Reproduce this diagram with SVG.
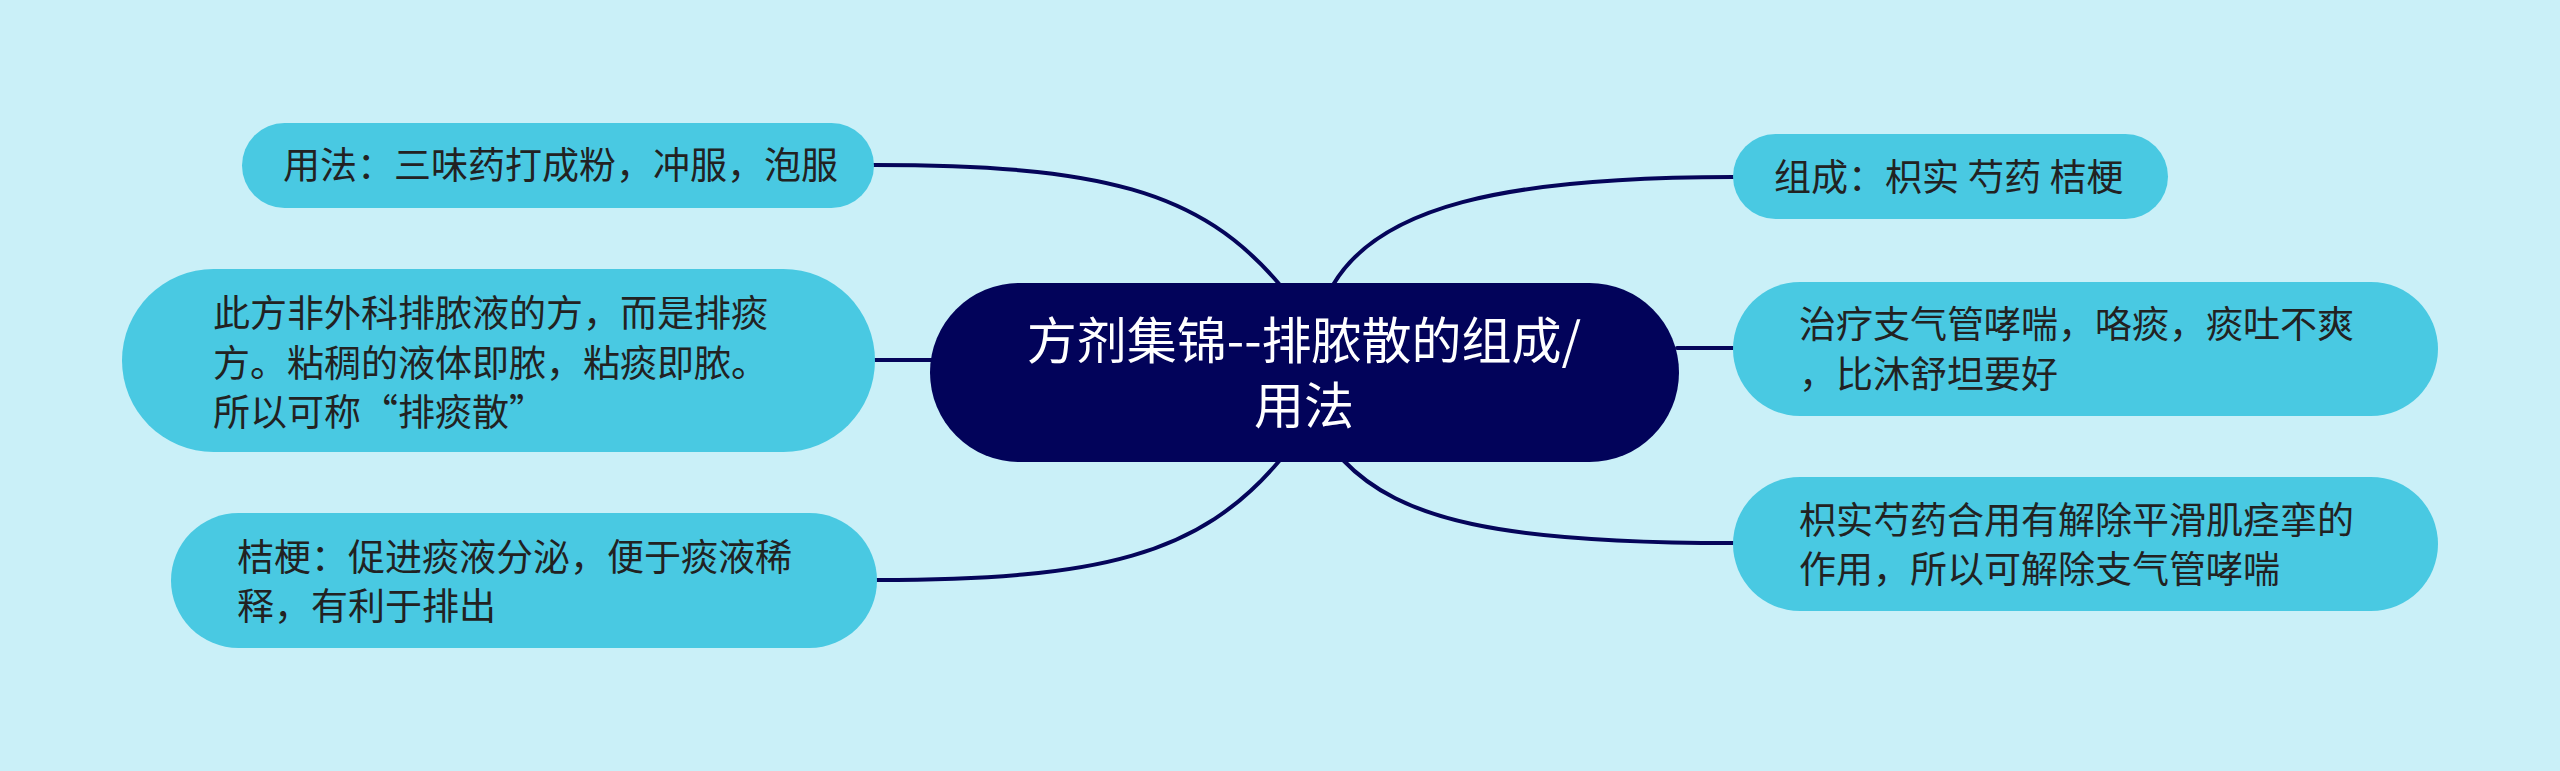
<svg xmlns="http://www.w3.org/2000/svg" width="2560" height="771" viewBox="0 0 2560 771">
<style>
.bg{fill:#CAF0F8}
.node{fill:#49C9E2}
.center{fill:#02035A}
.t{font-family:"Noto Sans CJK SC","Noto Sans",sans-serif;font-size:37px;fill:#222222}
.ct{font-family:"Noto Sans CJK SC","Noto Sans",sans-serif;font-size:50px;fill:#ffffff;text-anchor:middle}
.conn{fill:none;stroke:#05055A;stroke-width:4;stroke-linecap:round}
</style>
<rect class="bg" x="0" y="0" width="2560" height="771"/>
<g id="connectors">
<path class="conn" d="M 874 165 C 1100 165, 1200 190, 1280 285"/>
<path class="conn" d="M 875 360 L 932 360"/>
<path class="conn" d="M 877 580 C 1100 580, 1200 555, 1280 460"/>
<path class="conn" d="M 1333 285 C 1378 208, 1500 177, 1733 177"/>
<path class="conn" d="M 1677 348 L 1733 348"/>
<path class="conn" d="M 1343 460 C 1400 520, 1500 543, 1733 543"/>
</g>
<g id="center">
<rect class="center" x="930" y="283" width="749" height="179" rx="89.5"/>
<text class="ct" x="1304" y="359">方剂集锦--排脓散的组成/</text>
<text class="ct" x="1304" y="424">用法</text>
</g>
<g id="n-usage">
<rect class="node" x="242" y="123" width="632" height="85" rx="42.5"/>
<text class="t" x="283" y="179">用法：三味药打成粉，冲服，泡服</text>
</g>
<g id="n-note">
<rect class="node" x="122" y="269" width="753" height="183" rx="91.5"/>
<text class="t" x="213" y="327">此方非外科排脓液的方，而是排痰</text>
<text class="t" x="213" y="376.5">方。粘稠的液体即脓，粘痰即脓。</text>
<text class="t" x="213" y="426">所以可称“排痰散”</text>
</g>
<g id="n-jiegeng">
<rect class="node" x="171" y="513" width="706" height="135" rx="67.5"/>
<text class="t" x="237" y="570.5">桔梗：促进痰液分泌，便于痰液稀</text>
<text class="t" x="237" y="620">释，有利于排出</text>
</g>
<g id="n-composition">
<rect class="node" x="1733" y="134" width="435" height="85" rx="42.5"/>
<text class="t" x="1774" y="191">组成：枳实 芍药 桔梗</text>
</g>
<g id="n-treat">
<rect class="node" x="1733" y="282" width="705" height="134" rx="67"/>
<text class="t" x="1799" y="338">治疗支气管哮喘，咯痰，痰吐不爽</text>
<text class="t" x="1799" y="387.5">，比沐舒坦要好</text>
</g>
<g id="n-effect">
<rect class="node" x="1733" y="477" width="705" height="134" rx="67"/>
<text class="t" x="1799" y="534">枳实芍药合用有解除平滑肌痉挛的</text>
<text class="t" x="1799" y="583">作用，所以可解除支气管哮喘</text>
</g>
</svg>
